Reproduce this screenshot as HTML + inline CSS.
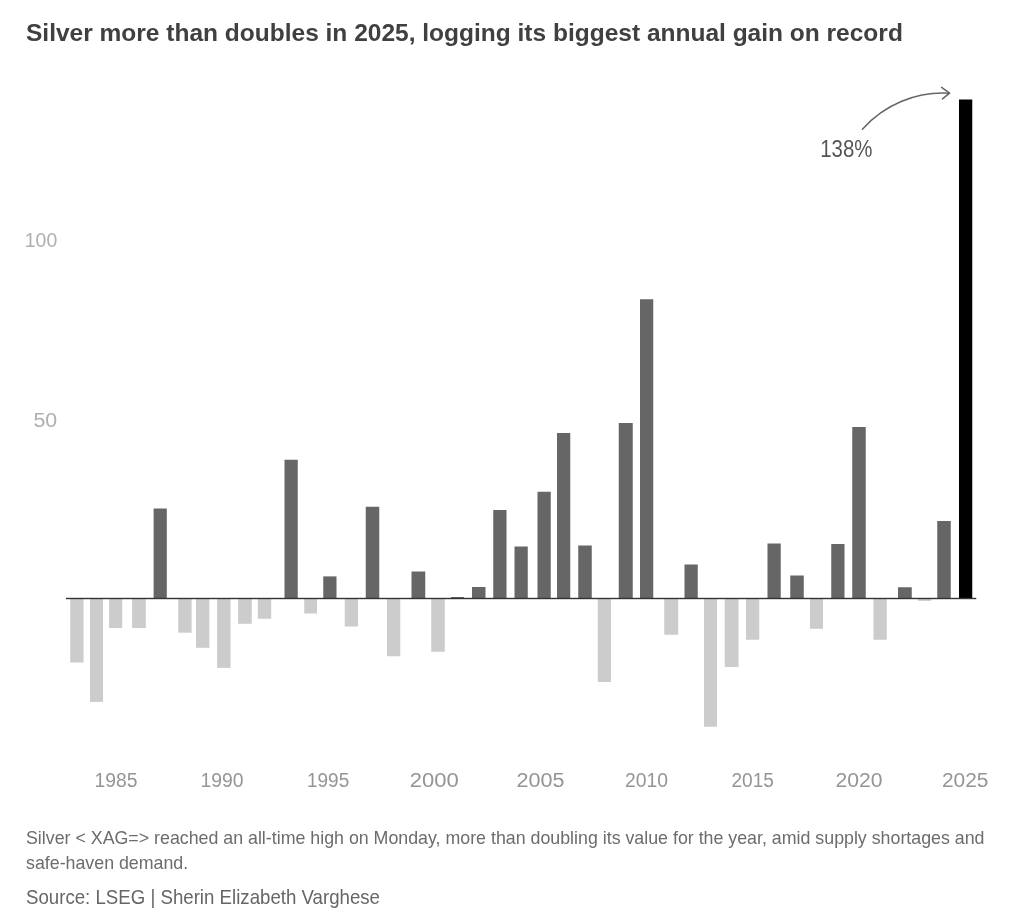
<!DOCTYPE html>
<html lang="en">
<head>
<meta charset="utf-8">
<title>Silver more than doubles in 2025</title>
<style>
html,body{margin:0;padding:0;background:#fff;}
body{width:1016px;height:917px;position:relative;overflow:hidden;font-family:"Liberation Sans",sans-serif;}
h1{position:absolute;left:25.5px;top:18px;transform:scaleX(1.021);margin:0;font-size:24px;line-height:30px;font-weight:700;color:#404040;white-space:nowrap;transform-origin:0 0;}
.note{position:absolute;left:25.5px;top:824.6px;transform:scaleX(0.9674);margin:0;font-size:18.4px;line-height:25.25px;color:#6c6c6c;white-space:nowrap;transform-origin:0 0;}
.src{position:absolute;left:25.5px;top:883.6px;transform:scaleX(0.893);margin:0;font-size:20.9px;line-height:26px;color:#666;white-space:nowrap;transform-origin:0 0;}
svg{position:absolute;left:0;top:0;}
svg text{font-family:"Liberation Sans",sans-serif;}
</style>
</head>
<body>
<h1 id="t">Silver more than doubles in 2025, logging its biggest annual gain on record</h1>
<svg width="1016" height="917" viewBox="0 0 1016 917">
<g shape-rendering="auto">
<rect x="70.25" y="598.50" width="13.25" height="64.00" fill="#cccccc"/>
<rect x="90.00" y="598.50" width="13.00" height="103.40" fill="#cccccc"/>
<rect x="109.10" y="598.50" width="13.10" height="29.60" fill="#cccccc"/>
<rect x="132.10" y="598.50" width="13.70" height="29.60" fill="#cccccc"/>
<rect x="153.60" y="508.50" width="13.20" height="90.00" fill="#666666"/>
<rect x="178.25" y="598.50" width="13.35" height="34.20" fill="#cccccc"/>
<rect x="196.00" y="598.50" width="13.40" height="49.30" fill="#cccccc"/>
<rect x="217.10" y="598.50" width="13.40" height="69.40" fill="#cccccc"/>
<rect x="238.10" y="598.50" width="13.65" height="25.30" fill="#cccccc"/>
<rect x="257.75" y="598.50" width="13.45" height="20.30" fill="#cccccc"/>
<rect x="284.50" y="459.75" width="13.25" height="138.75" fill="#666666"/>
<rect x="304.25" y="598.50" width="12.75" height="15.00" fill="#cccccc"/>
<rect x="323.25" y="576.40" width="13.25" height="22.10" fill="#666666"/>
<rect x="344.75" y="598.50" width="13.25" height="28.00" fill="#cccccc"/>
<rect x="365.75" y="506.75" width="13.50" height="91.75" fill="#666666"/>
<rect x="387.00" y="598.50" width="13.25" height="57.75" fill="#cccccc"/>
<rect x="411.50" y="571.50" width="13.75" height="27.00" fill="#666666"/>
<rect x="431.25" y="598.50" width="13.50" height="53.25" fill="#cccccc"/>
<rect x="451.00" y="597.00" width="13.00" height="1.50" fill="#666666"/>
<rect x="472.00" y="587.00" width="13.50" height="11.50" fill="#666666"/>
<rect x="493.25" y="510.00" width="13.25" height="88.50" fill="#666666"/>
<rect x="514.50" y="546.50" width="13.25" height="52.00" fill="#666666"/>
<rect x="537.50" y="491.75" width="13.25" height="106.75" fill="#666666"/>
<rect x="557.00" y="433.00" width="13.25" height="165.50" fill="#666666"/>
<rect x="578.25" y="545.50" width="13.50" height="53.00" fill="#666666"/>
<rect x="597.75" y="598.50" width="13.25" height="83.50" fill="#cccccc"/>
<rect x="618.75" y="423.00" width="14.00" height="175.50" fill="#666666"/>
<rect x="640.00" y="299.25" width="13.25" height="299.25" fill="#666666"/>
<rect x="664.25" y="598.50" width="14.00" height="36.25" fill="#cccccc"/>
<rect x="684.50" y="564.50" width="13.25" height="34.00" fill="#666666"/>
<rect x="704.00" y="598.50" width="13.00" height="128.25" fill="#cccccc"/>
<rect x="724.75" y="598.50" width="13.75" height="68.50" fill="#cccccc"/>
<rect x="746.00" y="598.50" width="13.25" height="41.25" fill="#cccccc"/>
<rect x="767.50" y="543.50" width="13.25" height="55.00" fill="#666666"/>
<rect x="790.25" y="575.50" width="13.50" height="23.00" fill="#666666"/>
<rect x="810.00" y="598.50" width="13.00" height="30.25" fill="#cccccc"/>
<rect x="831.25" y="544.00" width="13.25" height="54.50" fill="#666666"/>
<rect x="852.25" y="427.00" width="13.50" height="171.50" fill="#666666"/>
<rect x="873.50" y="598.50" width="13.25" height="41.25" fill="#cccccc"/>
<rect x="898.00" y="587.25" width="13.75" height="11.25" fill="#666666"/>
<rect x="918.00" y="598.50" width="13.25" height="2.40" fill="#cccccc"/>
<rect x="937.25" y="521.00" width="13.50" height="77.50" fill="#666666"/>
<rect x="959.00" y="99.50" width="13.25" height="499.00" fill="#000000"/>
</g>
<rect x="66" y="597.8" width="910.25" height="1.4" fill="#333333"/>
<g font-size="20.5" fill="#b0b0b0">
<text x="57.2" y="247.2" text-anchor="end" textLength="32.4" lengthAdjust="spacingAndGlyphs">100</text>
<text x="57.2" y="426.7" text-anchor="end" textLength="23.8" lengthAdjust="spacingAndGlyphs">50</text>
</g>
<g font-size="20.5" fill="#959595">
<text x="94.50" y="787" textLength="43.00" lengthAdjust="spacingAndGlyphs">1985</text>
<text x="200.50" y="787" textLength="43.00" lengthAdjust="spacingAndGlyphs">1990</text>
<text x="307.00" y="787" textLength="42.25" lengthAdjust="spacingAndGlyphs">1995</text>
<text x="409.75" y="787" textLength="49.00" lengthAdjust="spacingAndGlyphs">2000</text>
<text x="516.50" y="787" textLength="48.00" lengthAdjust="spacingAndGlyphs">2005</text>
<text x="625.00" y="787" textLength="43.00" lengthAdjust="spacingAndGlyphs">2010</text>
<text x="731.50" y="787" textLength="42.50" lengthAdjust="spacingAndGlyphs">2015</text>
<text x="835.50" y="787" textLength="47.00" lengthAdjust="spacingAndGlyphs">2020</text>
<text x="942.00" y="787" textLength="46.50" lengthAdjust="spacingAndGlyphs">2025</text>
</g>
<path d="M862.4,129.2 A108,108 0 0 1 949.4,93.2" fill="none" stroke="#666" stroke-width="1.5" stroke-linecap="round"/>
<path d="M941.6,87.4 L949.6,93.2 L942.5,98.9" fill="none" stroke="#666" stroke-width="1.5" stroke-linecap="round" stroke-linejoin="round"/>
<text x="820.2" y="157" font-size="23.5" fill="#555" textLength="52.2" lengthAdjust="spacingAndGlyphs">138%</text>
</svg>
<p class="note" id="n1">Silver &lt; XAG=&gt; reached an all-time high on Monday, more than doubling its value for the year, amid supply shortages and<br>safe-haven demand.</p>
<p class="src" id="s">Source: LSEG | Sherin Elizabeth Varghese</p>
</body>
</html>
